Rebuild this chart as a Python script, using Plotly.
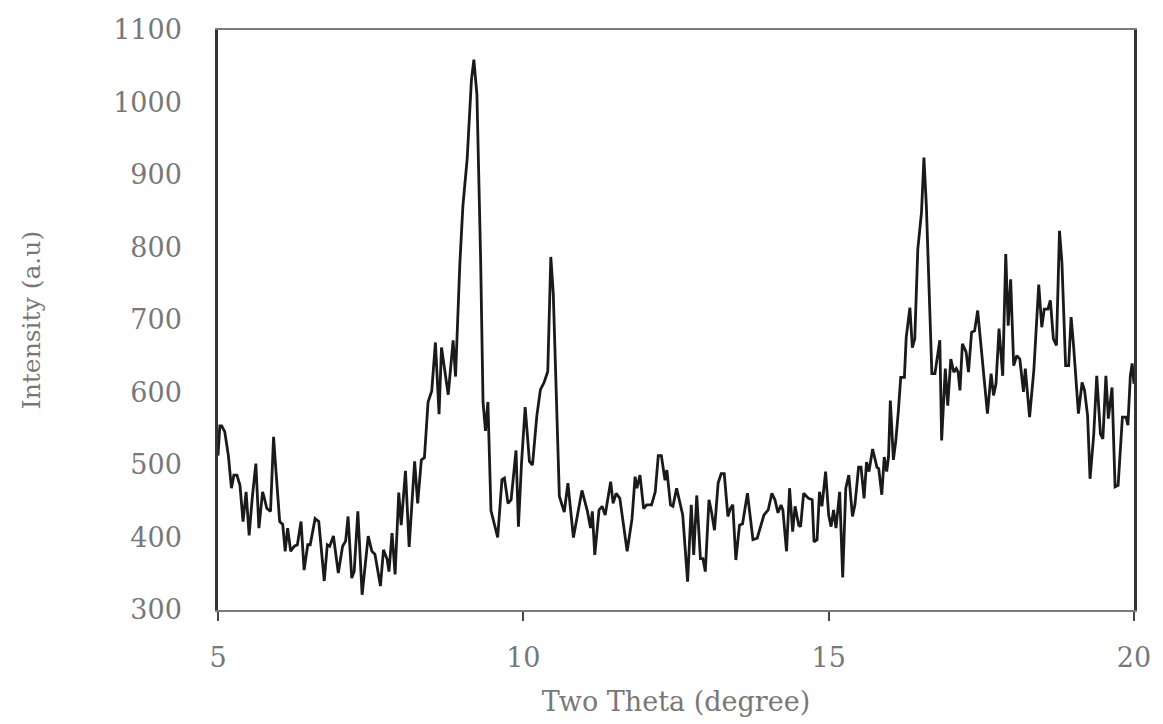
import plotly.graph_objects as go

# Powder XRD scan, 2-theta 5-20 degrees
two_theta = [
    5.00, 5.03, 5.06, 5.11, 5.17, 5.22, 5.26, 5.31, 5.36, 5.41, 5.46, 5.51, 5.56, 5.62, 5.67,
    5.73, 5.76, 5.80, 5.86, 5.91, 5.95, 6.01, 6.06, 6.10, 6.14, 6.19, 6.25, 6.30, 6.36, 6.41,
    6.47, 6.51, 6.59, 6.65, 6.74, 6.79, 6.83, 6.89, 6.97, 7.04, 7.09, 7.13, 7.19, 7.23, 7.29,
    7.36, 7.46, 7.52, 7.57, 7.66, 7.71, 7.77, 7.80, 7.85, 7.90,
    7.96, 8.00, 8.07, 8.13, 8.22, 8.27, 8.33, 8.38, 8.44, 8.50, 8.56, 8.62, 8.66, 8.77, 8.85,
    8.89, 8.93, 8.96, 9.01, 9.08, 9.15, 9.19, 9.24, 9.30, 9.34, 9.38, 9.42, 9.47, 9.58, 9.65,
    9.69, 9.75, 9.80, 9.88, 9.92, 9.97, 10.03, 10.10, 10.15, 10.22, 10.28, 10.34, 10.40, 10.45,
    10.49, 10.53, 10.59, 10.67, 10.73, 10.82, 10.88, 10.96,
    11.05, 11.10, 11.13, 11.17, 11.24, 11.29, 11.34, 11.43, 11.47, 11.52, 11.58, 11.70, 11.78,
    11.83, 11.86, 11.91, 11.97, 12.02, 12.10, 12.16, 12.21, 12.26, 12.32, 12.35, 12.41, 12.45,
    12.51, 12.61, 12.69, 12.75, 12.79, 12.84, 12.90, 12.94, 12.98, 13.04, 13.08, 13.13, 13.19,
    13.24, 13.29, 13.35, 13.39, 13.43, 13.48, 13.54, 13.59, 13.67, 13.76, 13.83, 13.94, 14.01,
    14.07, 14.12, 14.17, 14.22, 14.25, 14.31, 14.36, 14.41, 14.45, 14.51, 14.54, 14.59, 14.67,
    14.73, 14.76, 14.81, 14.85, 14.89, 14.95, 15.00, 15.04, 15.08, 15.12, 15.18, 15.23, 15.28,
    15.33,
    15.39, 15.43, 15.49, 15.53, 15.58, 15.62, 15.66, 15.72, 15.79, 15.82, 15.87, 15.91, 15.95,
    15.98, 16.01, 16.06, 16.10, 16.14, 16.18, 16.24, 16.27, 16.33, 16.37, 16.41, 16.46, 16.52,
    16.56, 16.60, 16.64, 16.69, 16.74, 16.82, 16.85, 16.91, 16.95, 17.00, 17.05, 17.09, 17.12,
    17.15, 17.19, 17.25, 17.29, 17.34, 17.39, 17.44, 17.60, 17.66, 17.70, 17.74, 17.79, 17.85,
    17.90, 17.94, 17.98, 18.03, 18.08, 18.13, 18.19, 18.22, 18.29, 18.36, 18.44, 18.49, 18.53,
    18.59, 18.63, 18.68, 18.73, 18.78, 18.82, 18.88, 18.93, 18.97, 19.01, 19.05, 19.09, 19.15,
    19.19, 19.24, 19.28, 19.34, 19.39, 19.45, 19.49, 19.54, 19.58, 19.64, 19.69, 19.74, 19.81,
    19.87, 19.90, 19.94, 19.97, 20.00,
]

intensity = [
    513, 554, 554, 546, 513, 468, 486, 486, 472, 422, 463, 403, 454, 502, 413,
    463, 454, 440, 436, 539, 491, 422, 418, 381, 413, 381, 388, 390, 422, 355,
    390, 390, 426, 422, 340, 390, 388, 402, 351, 388, 395, 429, 344, 353, 436,
    321, 402, 381, 377, 333, 383, 370, 353, 406, 349,
    462, 417, 492, 387, 505, 447, 507, 510, 587, 602, 669, 570, 662, 597, 672,
    622, 717, 777, 857, 922, 1031, 1059, 1011, 787, 587, 547, 587, 437, 400, 480,
    482, 447, 452, 520, 415, 502, 580, 505, 500, 567, 604, 614, 629, 787,
    737, 612, 457, 435, 475, 400, 430, 465,
    436, 413, 436, 376, 438, 443, 431, 477, 447, 461, 454, 381, 426,
    484, 468, 486, 440, 445, 445, 463, 513, 513, 479, 493, 445, 443,
    468, 431, 339, 445, 376, 458, 371, 371, 353, 452, 436, 410, 475,
    488, 488, 429, 440, 445, 369, 417, 419, 461, 397, 399, 431, 438,
    461, 452, 434, 445, 438, 381, 468, 408, 443, 417, 415, 461, 454,
    452, 394, 397, 463, 443, 491, 431, 415, 438, 413, 463, 345, 468,
    486,
    429, 445, 497, 497, 454, 504, 491, 522, 497, 495, 459, 511, 491,
    511, 589, 507, 534, 573, 621, 621, 676, 717, 662, 674, 798, 848,
    924, 857, 761, 626, 626, 672, 534, 633, 582, 646, 628, 633, 628,
    603, 667, 656, 628, 683, 685, 713, 571, 626, 596, 612, 688, 623,
    791, 692, 756, 637, 651, 646, 601, 633, 566, 631, 749, 690, 715,
    715, 727, 674, 665, 823, 779, 637, 637, 704, 665, 612, 571, 614,
    603, 568, 481, 541, 623, 543, 536, 623, 564, 607, 470, 472, 566,
    566, 555, 623, 640, 612,
]

x_ticks = [5, 10, 15, 20]
y_ticks = [300, 400, 500, 600, 700, 800, 900, 1000, 1100]

tick_font = dict(family="DejaVu Serif, serif", size=27, color="#787878")
title_font = dict(family="DejaVu Serif, serif", size=27, color="#787878")

fig = go.Figure(
    go.Scatter(
        x=two_theta,
        y=intensity,
        mode="lines",
        line=dict(color="#1a1a1a", width=2.8),
        hoverinfo="skip",
    )
)

fig.update_layout(
    width=1163,
    height=724,
    margin=dict(l=218, r=22, t=30, b=112),
    paper_bgcolor="white",
    plot_bgcolor="white",
    showlegend=False,
    font=tick_font,
)

fig.update_xaxes(
    range=[5, 20],
    tickvals=x_ticks,
    ticktext=[str(v) for v in x_ticks],
    ticks="outside",
    ticklen=9,
    tickwidth=1.5,
    tickcolor="#444444",
    showgrid=False,
    zeroline=False,
    showline=True,
    linecolor="#7a7a7a",
    linewidth=2,
    mirror=True,
    tickfont=tick_font,
    ticklabelstandoff=14,
    title=dict(text="Two Theta (degree)", font=title_font, standoff=20),
)

fig.update_yaxes(
    range=[300, 1100],
    tickvals=y_ticks,
    ticktext=[str(v) for v in y_ticks],
    ticks="",
    showgrid=False,
    zeroline=False,
    showline=True,
    linecolor="#333333",
    linewidth=2.5,
    mirror=True,
    tickfont=tick_font,
    ticklabelstandoff=28,
    title=dict(text="Intensity (a.u)", font=dict(family="DejaVu Serif, serif", size=25, color="#787878"), standoff=66),
)

fig.write_html("out.html")
